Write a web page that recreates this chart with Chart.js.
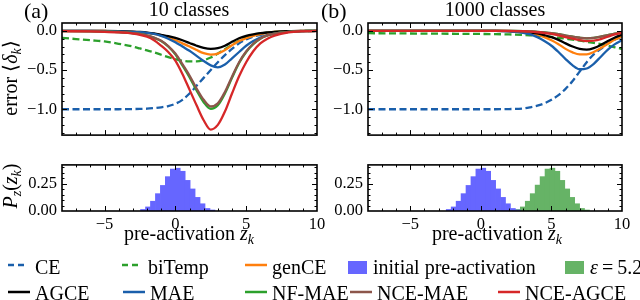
<!DOCTYPE html>
<html lang="en">
<head>
<meta charset="UTF-8">
<title>error vs pre-activation</title>
<script src="https://cdn.jsdelivr.net/npm/chart.js"></script>
<style>
  body { margin: 0; background: #fff; }
  #wrap { position: relative; width: 640px; height: 300px; overflow: hidden; font-family: 'Liberation Serif', serif; color: #000; }
  canvas { position: absolute; }
  .t { position: absolute; white-space: nowrap; font-size: 20px; line-height: 20px; }
  .ctr { transform: translateX(-50%); }
  .rot { transform: translate(-50%, -50%) rotate(-90deg); }
  .sb { font-size: 14px; position: relative; top: 4px; }
  svg { position: absolute; }
</style>
</head>
<body>
<div id="wrap">
  <canvas id="cA1" width="320" height="150" style="left:0;top:0"></canvas>
  <canvas id="cA2" width="340" height="100" style="left:0;top:150px"></canvas>
  <canvas id="cB1" width="320" height="150" style="left:320px;top:0"></canvas>
  <canvas id="cB2" width="320" height="100" style="left:320px;top:150px"></canvas>

  <div class="t" style="left:24px;top:0;font-size:22px;line-height:22px">(a)</div>
  <div class="t ctr" style="left:189px;top:-1px">10 classes</div>
  <div class="t" style="left:321px;top:0;font-size:22px;line-height:22px">(b)</div>
  <div class="t ctr" style="left:495px;top:-1px">1000 classes</div>

  <div class="t rot" style="left:11px;top:78px">error ⟨<i>δ</i><span class="sb"><i>k</i></span>⟩</div>
  <div class="t rot" style="left:11px;top:186px"><i>P</i><span class="sb"><i>z</i></span>(<i>z</i><span class="sb"><i>k</i></span>)</div>
  <div class="t ctr" style="left:189px;top:223px">pre-activation <i>z</i><span class="sb"><i>k</i></span></div>
  <div class="t ctr" style="left:497px;top:223px">pre-activation <i>z</i><span class="sb"><i>k</i></span></div>

  <!-- legend -->
  <svg style="left:8px;top:259px" width="22" height="12"><line x1="0" y1="6" x2="18" y2="6" stroke="#1a5fab" stroke-width="2.5" stroke-dasharray="6 4"/></svg>
  <div class="t" style="left:35px;top:257px">CE</div>
  <svg style="left:122px;top:259px" width="22" height="12"><line x1="0" y1="6" x2="18" y2="6" stroke="#2ca02c" stroke-width="2.5" stroke-dasharray="6 4"/></svg>
  <div class="t" style="left:148px;top:257px">biTemp</div>
  <svg style="left:245px;top:259px" width="22" height="12"><line x1="0" y1="6" x2="22" y2="6" stroke="#ff7f0e" stroke-width="2.5"/></svg>
  <div class="t" style="left:272px;top:257px">genCE</div>
  <svg style="left:348px;top:261px" width="19" height="13"><rect width="19" height="13" fill="#6666ff"/></svg>
  <div class="t" style="left:373px;top:257px">initial pre-activation</div>
  <svg style="left:565px;top:261px" width="19" height="13"><rect width="19" height="13" fill="#66b366"/></svg>
  <div class="t" style="left:590px;top:257px"><i>ε</i>&thinsp;=&thinsp;5.2</div>

  <svg style="left:8px;top:286px" width="22" height="12"><line x1="0" y1="6" x2="22" y2="6" stroke="#000" stroke-width="2.5"/></svg>
  <div class="t" style="left:35px;top:283px">AGCE</div>
  <svg style="left:123px;top:286px" width="22" height="12"><line x1="0" y1="6" x2="22" y2="6" stroke="#1a5fab" stroke-width="2.5"/></svg>
  <div class="t" style="left:150px;top:283px">MAE</div>
  <svg style="left:245px;top:286px" width="22" height="12"><line x1="0" y1="6" x2="22" y2="6" stroke="#2ca02c" stroke-width="2.5"/></svg>
  <div class="t" style="left:272px;top:283px">NF-MAE</div>
  <svg style="left:350px;top:286px" width="22" height="12"><line x1="0" y1="6" x2="22" y2="6" stroke="#8c564b" stroke-width="2.5"/></svg>
  <div class="t" style="left:377px;top:283px">NCE-MAE</div>
  <svg style="left:498px;top:286px" width="22" height="12"><line x1="0" y1="6" x2="22" y2="6" stroke="#d62728" stroke-width="2.5"/></svg>
  <div class="t" style="left:525px;top:283px">NCE-AGCE</div>
</div>

<script>
// ---- data ----
const xTicks = [-5, 0, 5, 10];
const errTicks = [0, -0.5, -1];
const histTicks = [0, 0.25];

// (a) 10 classes
const zA = [-8,-6,-5,-4,-3,-2.5,-2,-1.5,-1,-0.5,0,0.5,1,1.5,2,2.5,3,3.5,4,4.5,5,5.5,6,6.5,7,8,9,10];
const ceA      = [-1,-1,-1,-1,-0.998,-0.996,-0.993,-0.985,-0.975,-0.96,-0.93,-0.88,-0.8,-0.7,-0.6,-0.5,-0.4,-0.31,-0.23,-0.16,-0.11,-0.075,-0.05,-0.033,-0.022,-0.009,-0.004,-0.002];
const biTempA  = [-0.09,-0.12,-0.135,-0.165,-0.2,-0.225,-0.25,-0.275,-0.305,-0.335,-0.36,-0.38,-0.39,-0.39,-0.375,-0.34,-0.29,-0.235,-0.18,-0.125,-0.085,-0.055,-0.035,-0.022,-0.014,-0.005,-0.002,0];
const genCEA   = [0,0,-0.002,-0.005,-0.012,-0.017,-0.025,-0.04,-0.06,-0.085,-0.12,-0.16,-0.2,-0.245,-0.285,-0.303,-0.29,-0.245,-0.185,-0.13,-0.095,-0.065,-0.042,-0.027,-0.015,-0.005,-0.001,0];
const agceA    = [0,0,0,-0.003,-0.01,-0.015,-0.022,-0.033,-0.05,-0.068,-0.09,-0.12,-0.155,-0.19,-0.218,-0.23,-0.222,-0.19,-0.14,-0.095,-0.065,-0.045,-0.03,-0.02,-0.012,-0.004,-0.001,0];
const maeA     = [0,-0.001,-0.003,-0.006,-0.012,-0.017,-0.025,-0.04,-0.065,-0.1,-0.145,-0.2,-0.255,-0.32,-0.385,-0.44,-0.465,-0.43,-0.35,-0.27,-0.19,-0.13,-0.085,-0.055,-0.035,-0.013,-0.004,0];
const nfMaeA   = [-0.003,-0.006,-0.01,-0.015,-0.03,-0.04,-0.06,-0.09,-0.13,-0.2,-0.3,-0.44,-0.59,-0.76,-0.91,-0.995,-0.95,-0.8,-0.6,-0.41,-0.27,-0.17,-0.1,-0.06,-0.035,-0.012,-0.004,-0.001];
const nceMaeA  = [-0.003,-0.006,-0.01,-0.015,-0.029,-0.039,-0.058,-0.087,-0.126,-0.194,-0.29,-0.425,-0.57,-0.735,-0.88,-0.965,-0.925,-0.78,-0.585,-0.4,-0.263,-0.165,-0.097,-0.058,-0.034,-0.012,-0.004,-0.001];
const nceAgceA = [-0.004,-0.008,-0.012,-0.02,-0.035,-0.05,-0.075,-0.12,-0.19,-0.27,-0.38,-0.55,-0.75,-0.95,-1.14,-1.26,-1.2,-1.03,-0.8,-0.58,-0.4,-0.26,-0.16,-0.1,-0.06,-0.02,-0.006,-0.002];

// (b) 1000 classes
const zB = [-8,-4,0,1,2,3,3.5,4,4.5,5,5.5,6,6.5,7,7.5,8,8.5,9,9.5,10];
const ceB      = [-1,-1,-1,-1,-0.998,-0.99,-0.975,-0.955,-0.925,-0.88,-0.82,-0.74,-0.64,-0.52,-0.4,-0.3,-0.23,-0.16,-0.11,-0.075];
const biTempB  = [-0.03,-0.035,-0.04,-0.042,-0.046,-0.052,-0.057,-0.063,-0.07,-0.078,-0.088,-0.1,-0.112,-0.125,-0.14,-0.155,-0.17,-0.19,-0.21,-0.23];
const genCEB   = [0,0,0,0,-0.004,-0.015,-0.03,-0.05,-0.08,-0.12,-0.17,-0.23,-0.275,-0.3,-0.3,-0.27,-0.22,-0.165,-0.11,-0.07];
const agceB    = [0,0,0,0,-0.003,-0.01,-0.02,-0.033,-0.055,-0.08,-0.115,-0.16,-0.2,-0.23,-0.24,-0.22,-0.18,-0.13,-0.085,-0.05];
const maeB     = [0,0,0,-0.001,-0.008,-0.025,-0.045,-0.08,-0.13,-0.19,-0.27,-0.36,-0.44,-0.49,-0.48,-0.42,-0.33,-0.24,-0.17,-0.12];
const nfMaeB   = [0,0,0,0,-0.001,-0.003,-0.007,-0.012,-0.02,-0.03,-0.043,-0.06,-0.075,-0.088,-0.095,-0.09,-0.075,-0.055,-0.035,-0.02];
const nceMaeB  = [0,0,0,0,-0.001,-0.003,-0.007,-0.012,-0.02,-0.03,-0.043,-0.06,-0.075,-0.088,-0.095,-0.09,-0.075,-0.055,-0.035,-0.02];
const nceAgceB = [0,0,0,0,-0.002,-0.005,-0.01,-0.018,-0.028,-0.04,-0.057,-0.08,-0.1,-0.118,-0.13,-0.125,-0.105,-0.075,-0.045,-0.025];

// histograms of pre-activations
const initBins  = [-2.28,-1.93,-1.58,-1.23,-0.88,-0.53,-0.18,0.17,0.52,0.87,1.22,1.57,1.92,2.27,2.62];
const initHist  = [0.014,0.037,0.089,0.158,0.233,0.313,0.382,0.39,0.362,0.279,0.201,0.124,0.066,0.023,0.009];
const shiftBins = [2.62,2.97,3.32,3.67,4.02,4.37,4.72,5.07,5.42,5.77,6.12,6.47,6.82,7.17,7.52];
const shiftHist = [0.014,0.037,0.089,0.158,0.236,0.313,0.382,0.39,0.362,0.279,0.201,0.124,0.066,0.023,0.009];

const BLUE = '#1a5fab', GREEN = '#2ca02c', ORANGE = '#ff7f0e', RED = '#d62728', BROWN = '#8c564b';

Chart.defaults.font.family = "'Liberation Serif', serif";
Chart.defaults.color = '#000';

const minus = (v, d) => (v < 0 ? '\u2212' : '') + Math.abs(v).toFixed(d);

function steps(min, max, step) {
  const out = [];
  for (let i = Math.ceil(min / step - 1e-9); i * step <= max + 1e-9; i++) out.push(i * step);
  return out;
}

// box around the plot with inward ticks on all four sides
const frame = {
  id: 'frame',
  afterDatasetsDraw(chart, args, o) {
    const { ctx, chartArea: a, scales: { x, y } } = chart;
    ctx.save();
    ctx.strokeStyle = '#000';
    ctx.lineWidth = 1;
    ctx.beginPath();
    const mark = (vals, len, isX) => vals.forEach(v => {
      if (isX) {
        const p = Math.round(x.getPixelForValue(v)) + 0.5;
        if (p < a.left + 1 || p > a.right - 1) return;
        ctx.moveTo(p, a.bottom); ctx.lineTo(p, a.bottom - len);
        ctx.moveTo(p, a.top); ctx.lineTo(p, a.top + len);
      } else {
        const p = Math.round(y.getPixelForValue(v)) + 0.5;
        if (p < a.top + 1 || p > a.bottom - 1) return;
        ctx.moveTo(a.left, p); ctx.lineTo(a.left + len, p);
        ctx.moveTo(a.right, p); ctx.lineTo(a.right - len, p);
      }
    });
    mark(steps(x.min, x.max, 1), 2.5, true);
    mark(xTicks, 5, true);
    mark(steps(y.min, y.max, o.yMinor), 2.5, false);
    mark(o.yTicks, 5, false);
    ctx.stroke();
    ctx.lineWidth = 1.6;
    ctx.strokeRect(a.left, a.top, a.right - a.left, a.bottom - a.top);
    ctx.restore();
  }
};

function options(pad, yWidth, yMin, yMax, yTicks, yDigits, yMinor, showX) {
  return {
    responsive: false,
    animation: false,
    layout: { padding: pad },
    plugins: { legend: { display: false }, tooltip: { enabled: false }, frame: { yTicks, yMinor } },
    scales: {
      x: {
        type: 'linear', min: -8, max: 10, offset: false,
        grid: { display: false, drawTicks: false }, border: { display: false },
        afterBuildTicks: s => { s.ticks = xTicks.map(v => ({ value: v })); },
        ticks: { display: showX, padding: 4, maxRotation: 0, font: { size: 16.5 }, callback: v => minus(v, 0) },
        afterFit: s => { s.height = showX ? 26 : 0; }
      },
      y: {
        min: yMin, max: yMax,
        grid: { display: false, drawTicks: false }, border: { display: false },
        afterBuildTicks: s => { s.ticks = yTicks.map(v => ({ value: v })); },
        ticks: { padding: 5, font: { size: 16.5 }, callback: v => minus(v, yDigits) },
        afterFit: s => { s.width = yWidth; }
      }
    }
  };
}

function lines(z, series) {
  const n = series.length;
  return series.map((s, i) => ({
    data: z.map((v, j) => ({ x: v, y: s.data[j] })),
    borderColor: s.color,
    borderWidth: 2.3,
    borderDash: s.dash ? [7, 3.5] : [],
    pointRadius: 0,
    cubicInterpolationMode: 'monotone',
    order: n - i
  }));
}

function errChart(id, z, d, yWidth, padRight) {
  new Chart(document.getElementById(id), {
    type: 'line',
    data: {
      datasets: lines(z, [
        { data: d[0], color: BLUE, dash: true },
        { data: d[1], color: GREEN, dash: true },
        { data: d[2], color: ORANGE },
        { data: d[3], color: '#000' },
        { data: d[4], color: BLUE },
        { data: d[5], color: GREEN },
        { data: d[6], color: BROWN },
        { data: d[7], color: RED }
      ])
    },
    options: options({ left: 0, top: 23, right: padRight, bottom: 6 }, yWidth, -1.33, 0.1, errTicks, 1, 0.1, false),
    plugins: [frame]
  });
}

function bars(x, h, color) {
  return {
    data: x.map((v, i) => ({ x: v, y: h[i] })),
    backgroundColor: color,
    borderWidth: 0,
    barPercentage: 1,
    categoryPercentage: 1,
    grouped: false
  };
}

function histChart(id, datasets, yWidth, padRight) {
  new Chart(document.getElementById(id), {
    type: 'bar',
    data: { datasets },
    options: options({ left: 0, top: 12, right: padRight, bottom: 13 }, yWidth, 0, 0.42, histTicks, 2, 0.05, true),
    plugins: [frame]
  });
}

errChart('cA1', zA, [ceA, biTempA, genCEA, agceA, maeA, nfMaeA, nceMaeA, nceAgceA], 62, 3);
errChart('cB1', zB, [ceB, biTempB, genCEB, agceB, maeB, nfMaeB, nceMaeB, nceAgceB], 48, 18);
histChart('cA2', [bars(initBins, initHist, '#6666ff')], 62, 23);
histChart('cB2', [bars(initBins, initHist, '#6666ff'), bars(shiftBins, shiftHist, '#66b366')], 48, 18);
</script>
</body>
</html>
